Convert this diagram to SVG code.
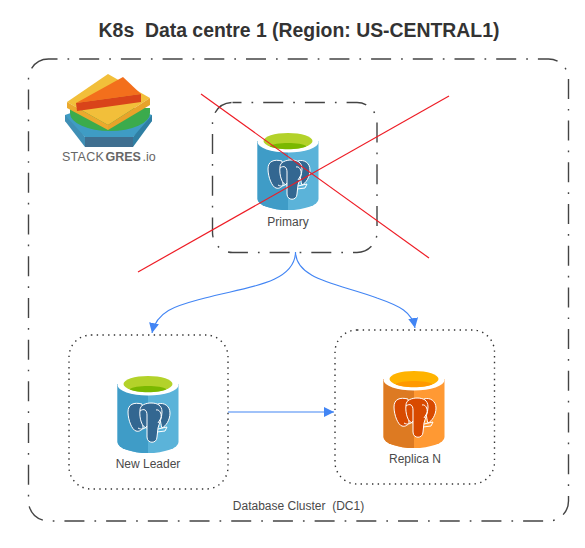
<svg xmlns="http://www.w3.org/2000/svg" width="585" height="548" viewBox="0 0 585 548">
<style>
text{font-family:"Liberation Sans",Arial,sans-serif;fill:#4a4a4a;font-size:12px;text-anchor:middle;white-space:pre}
.dashdot{fill:none;stroke:#444;stroke-width:1.4;stroke-dasharray:20 10 1.7 10;stroke-dashoffset:11}
.dot{fill:none;stroke:#333;stroke-width:1.4;stroke-dasharray:1.4 4.3}
.conn{fill:none;stroke:#4285f4;stroke-width:1.1}
.cross{stroke:#ee1c25;stroke-width:1.2}
.blue{--l:#3f9cc7;--r:#5bb3d9;--in:#b3d22a;--low:#7ab800;--e:#336791}
.orange{--l:#dd7a22;--r:#ff9933;--in:#ffb300;--low:#ff9900;--e:#d84a00}
.l{fill:var(--l)}.r{fill:var(--r)}.in{fill:var(--in)}.low{fill:var(--low)}
.e{fill:var(--e);stroke:#fff;stroke-width:1}
.ln{fill:none;stroke:#fff;stroke-width:1}
.logo{font-size:12.500px;fill:#666;text-anchor:start}
</style>
<defs>
<marker id="arrow" viewBox="0 0 10 10" refX="10" refY="5" markerWidth="10" markerHeight="10" orient="auto" markerUnits="userSpaceOnUse"><path d="M0 0L10 5L0 10Z" fill="#4285f4"/></marker>
<g id="db">
<path class="r" d="M-30.500 0V58A30.500 11 0 0 0 30.500 58V0Z"/>
<path class="l" d="M-30.500 0V58A30.500 11 0 0 0 0 69V0Z"/>
<ellipse cx="0" cy="1" rx="30.500" ry="10.500" fill="#fff"/>
<ellipse class="in" cx="0" cy="0" rx="24.500" ry="8"/>
<path class="low" d="M-18.500 5.200C-13 1 13 1 18.500 5.200C12 9.200 -12 9.200 -18.500 5.200Z"/>
<path class="e" d="M-6 20C-14 18 -20 20 -20 28C-20 36 -16 46 -12 47C-9 48 -6 46 -5 44Z"/>
<path class="e" d="M10 20C16 18 22 22 22 29C22 36 18 42 14 44C12 38 12 30 10 20Z"/>
<path class="e" d="M-8 26C-8 21 -2 19 3 19C9 19 14 21 14 28C14 34 11 40 10 44L9 53C9 60 -1 60 -1 53L-1 44C-6 44 -9 34 -8 26Z"/>
<path class="ln" d="M-8 27C-4 24 -1 26 -1 31L-1 44M8 26C11 25 14 29 13 34L10 39M10 45L19 43L17 47L9 48M-10 44C-7 46 -3 45 -1 42"/>
</g>
</defs>
<text x="299" y="37" style="font-size:19.400px;font-weight:bold;fill:#333">K8s  Data centre 1 (Region: US-CENTRAL1)</text>
<g id="data-centre"><rect class="dashdot" x="28.500" y="59" width="540" height="462" rx="20"/><text x="298.500" y="510">Database Cluster  (DC1)</text></g>
<g id="logo">
<path d="M65 115L108 100L152 115V121L133 137H85L65 121Z" fill="#3f9cc4"/>
<path d="M65 115V121L85 147V137Z" fill="#3f8fb5"/>
<path d="M152 115V121L133 147V137Z" fill="#2f7fa3"/>
<path d="M85 137H133V147H85Z" fill="#3f6f90"/>
<path d="M70 108H150V113A40 18 0 0 1 70 113Z" fill="#3bab4c"/>
<path d="M67 102L108 74L150 98L108 125Z" fill="#f2bf3a"/>
<path d="M67 102V108L108 130V125Z" fill="#eba92d"/>
<path d="M150 98V105L108 130V125Z" fill="#e8a32a"/>
<path d="M76 103L123 77L141 94Z" fill="#f36f1c"/>
<path d="M76 103L141 94V102L77 111Z" fill="#d9441a"/>
<text class="logo" x="62" y="161" letter-spacing=".25">STACK</text>
<text class="logo" x="105.500" y="161" font-weight="700">GRES</text>
<text class="logo" x="142.500" y="161">.io</text>
</g>
<g id="primary">
<rect class="dashdot" x="212.500" y="102.500" width="164.500" height="150" rx="20"/>
<use href="#db" class="blue" transform="translate(288 141)"/>
<text x="288" y="225.500">Primary</text>
</g>
<g id="new-leader">
<rect class="dot" x="69" y="335" width="159" height="154" rx="22"/>
<use href="#db" class="blue" transform="translate(148 384)"/>
<text x="148" y="468">New Leader</text>
</g>
<g id="replica-n">
<rect class="dot" x="335" y="330" width="159.500" height="154" rx="22"/>
<use href="#db" class="orange" transform="translate(414 379)"/>
<text x="415" y="463">Replica N</text>
</g>
<g id="connectors">
<path class="conn" d="M295.500 252C295 285 240 288 205 298C180 305 157 309 152 333" marker-end="url(#arrow)"/>
<path class="conn" d="M295.500 252C296 280 340 284 377 298C400 306 412 312 415 328" marker-end="url(#arrow)"/>
<path class="conn" d="M228 412H334" marker-end="url(#arrow)"/>
<line class="cross" x1="201" y1="94" x2="429" y2="258"/>
<line class="cross" x1="138" y1="272" x2="449" y2="96"/>
</g>
</svg>
